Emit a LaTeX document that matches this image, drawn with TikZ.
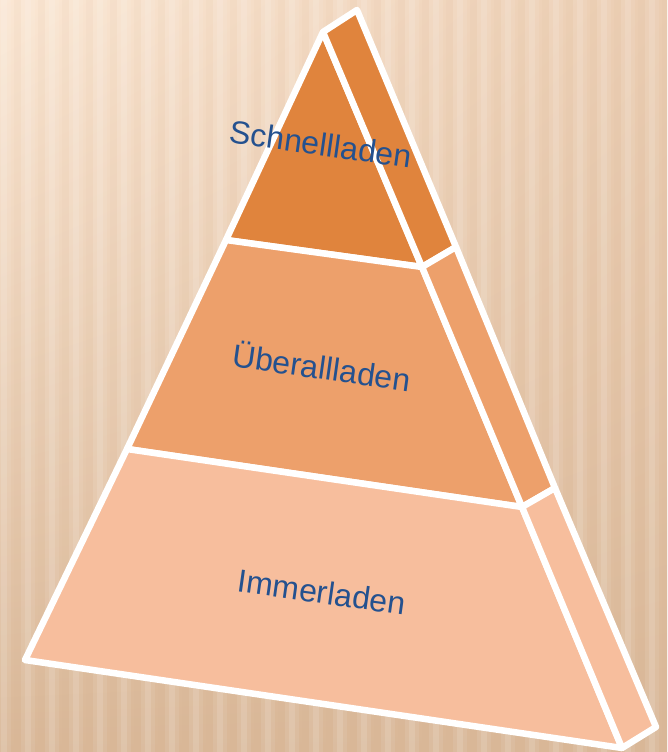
\documentclass[tikz,border=0pt]{standalone}
\usepackage{fontspec}
\setmainfont{Liberation Sans}
\usetikzlibrary{positioning,shadings}
\definecolor{bglight}{HTML}{FBE7D4}
\definecolor{bgmid}{HTML}{EBCDB2}
\definecolor{bgdark}{HTML}{D9B797}
\definecolor{layertop}{HTML}{E0843D}
\definecolor{layermid}{HTML}{EDA06B}
\definecolor{layerlow}{HTML}{F7BE9D}
\definecolor{labelblue}{HTML}{24518F}

\begin{document}
\begin{tikzpicture}[x=1pt,y=-1pt,
  face/.style={draw=white,line width=6.5pt,line join=round},
  lbl/.style={font=\fontsize{32}{36}\selectfont,text=labelblue,rotate=-8}]
  \useasboundingbox (0,0) rectangle (667,752);
  % background
  \shade[upper left=bglight,upper right=bgmid,lower left=bgdark,lower right=bgdark]
    (0,0) rectangle (667,752);
  \foreach \x in {0,24,...,672}{
    \fill[white,opacity=0.08](\x-3,0) rectangle ++(14,752);
    \fill[white,opacity=0.12](\x+1,0) rectangle ++(6,752);
    \fill[bgdark,opacity=0.07](\x+14,0) rectangle ++(7,752);}
  % corners of the pyramid
  \coordinate (apex) at (323,32);
  \coordinate (apexb) at (357,10);
  \coordinate (l1) at (226,240);
  \coordinate (r1) at (422,267);
  \coordinate (r1b) at (456,247);
  \coordinate (l2) at (127,449);
  \coordinate (r2) at (522,507);
  \coordinate (r2b) at (555,488);
  \coordinate (l3) at (25,660);
  \coordinate (r3) at (622,748);
  \coordinate (r3b) at (656,727);
  % front faces
  \filldraw[face,fill=layertop](apex)--(l1)--(r1)--cycle;
  \filldraw[face,fill=layermid](l1)--(l2)--(r2)--(r1)--cycle;
  \filldraw[face,fill=layerlow](l2)--(l3)--(r3)--(r2)--cycle;
  % side faces
  \filldraw[face,fill=layertop](apex)--(apexb)--(r1b)--(r1)--cycle;
  \filldraw[face,fill=layermid](r1)--(r1b)--(r2b)--(r2)--cycle;
  \filldraw[face,fill=layerlow](r2)--(r2b)--(r3b)--(r3)--cycle;
  % labels
  \node[lbl] (schnell) at (321,144) {Schnellladen};
  \node[lbl] (ueberall) at (322,366) {Überallladen};
  \node[lbl] (immer) at (322,592) {Immerladen};
\end{tikzpicture}
\end{document}
